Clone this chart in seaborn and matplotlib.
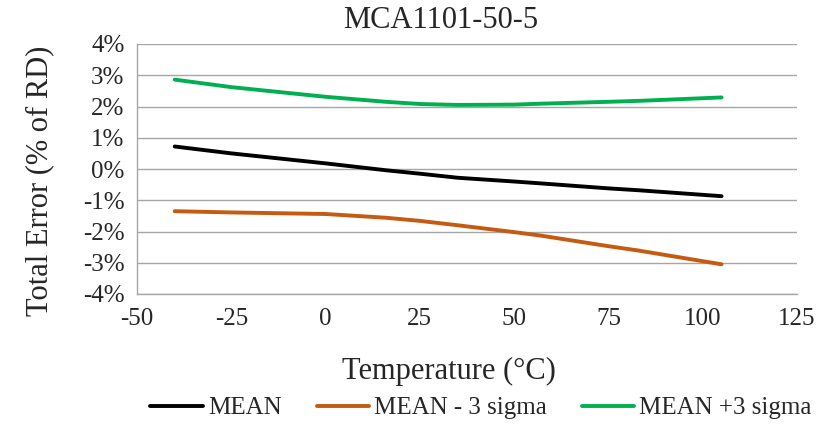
import numpy as np
import pandas as pd
import matplotlib
matplotlib.use("Agg")
import matplotlib.pyplot as plt
import seaborn as sns
from matplotlib.ticker import FuncFormatter, MultipleLocator
from matplotlib.lines import Line2D

# ---- data ----
temperature = [-40, -25, 0, 16, 25, 35, 50, 57, 75, 83, 105]
mean_vals = [0.72, 0.50, 0.18, -0.04, -0.15, -0.28, -0.40, -0.46, -0.62, -0.68, -0.87]
minus3_vals = [-1.35, -1.39, -1.44, -1.56, -1.66, -1.80, -2.02, -2.13, -2.47, -2.61, -3.05]
plus3_vals = [2.86, 2.62, 2.31, 2.15, 2.08, 2.05, 2.06, 2.09, 2.15, 2.18, 2.29]
series_names = ["MEAN", "MEAN - 3 sigma", "MEAN +3 sigma"]
series_colors = ["#000000", "#C55A11", "#00B050"]
title = "MCA1101-50-5"
x_label = "Temperature (°C)"
y_label = "Total Error (% of RD)"

df = pd.DataFrame({
    "Temperature": temperature * 3,
    "Error": mean_vals + minus3_vals + plus3_vals,
    "Series": [series_names[0]] * len(temperature)
              + [series_names[1]] * len(temperature)
              + [series_names[2]] * len(temperature),
})

sns.set_style("white")
plt.rcParams["font.family"] = ["Liberation Serif", "DejaVu Serif"]
plt.rcParams["axes.unicode_minus"] = False

fig = plt.figure(figsize=(8.33, 4.24), dpi=100)
ax = fig.add_axes([137 / 833, 1 - 294 / 424, 660 / 833, 250 / 424])

sns.lineplot(data=df, x="Temperature", y="Error", hue="Series",
             palette=dict(zip(series_names, series_colors)),
             linewidth=2.8, ax=ax, legend=False, sort=True)
for ln in ax.lines:
    ln.set_solid_joinstyle("round")
    ln.set_solid_capstyle("round")

ax.set_xlim(-50, 125)
ax.set_ylim(-4, 4)
ax.xaxis.set_major_locator(MultipleLocator(25))
ax.yaxis.set_major_locator(MultipleLocator(1))
ax.yaxis.set_major_formatter(FuncFormatter(lambda v, p: f"{v:.0f}%"))
ax.grid(axis="y", color="#A6A6A6", linewidth=1.0)
ax.set_axisbelow(True)
for s in ["top", "right"]:
    ax.spines[s].set_visible(False)
for s in ["left", "bottom"]:
    ax.spines[s].set_color("#A6A6A6")
    ax.spines[s].set_linewidth(1.0)
ax.tick_params(axis="y", direction="out", length=7, color="#A6A6A6",
               labelsize=18, pad=2)
ax.tick_params(axis="x", direction="in", length=7, color="#A6A6A6",
               labelsize=18, pad=10)
ax.set_xlabel("")
ax.set_ylabel("")

fig.text(441 / 833, 1 - 21 / 424, title, ha="center", va="center", fontsize=22)
fig.text(449 / 833, 1 - 371 / 424, x_label, ha="center", va="center", fontsize=22)
fig.text(40 / 833, 1 - 181 / 424, y_label, ha="center", va="center",
         fontsize=22, rotation=90)

handles = [Line2D([0], [0], color=c, linewidth=2.8) for c in series_colors]
fig.legend(handles, series_names, loc="center", bbox_to_anchor=(481 / 833, 1 - 408 / 424),
           ncol=3, frameon=False, fontsize=18, handlelength=2.1,
           handletextpad=0.2, columnspacing=1.4, borderaxespad=0, borderpad=0)

fig.savefig("out.png", dpi=100)
